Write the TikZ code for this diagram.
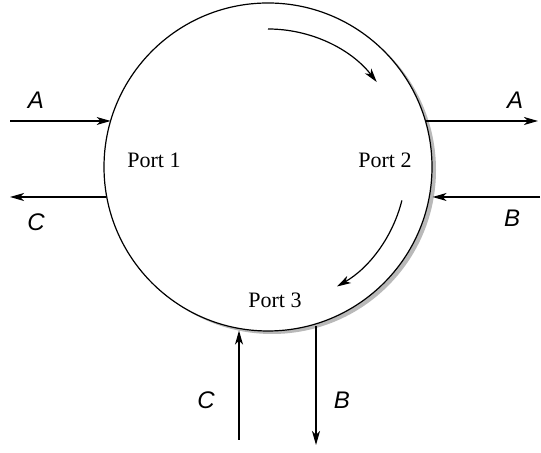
\documentclass[tikz,border=0pt]{standalone}
\usepackage{fontspec}
\setmainfont{Liberation Serif}
\setsansfont{Liberation Sans}
\usetikzlibrary{arrows.meta, positioning, calc}

\begin{document}
\begin{tikzpicture}[
  x=0.5pt, y=0.5pt,
  arrow/.style={-{Stealth[length=7pt, width=4pt, inset=2pt]}, line width=0.6pt},
  portlabel/.style={font=\fontsize{11}{13}\selectfont, inner sep=0pt},
  signal/.style={font=\sffamily\itshape\fontsize{12}{14}\selectfont, inner sep=0pt}
]
  \useasboundingbox (0,0) rectangle (541,453);

  %% Circulator body with shadow
  \node[circle, fill=gray!55, minimum size=164pt, inner sep=0pt] (shadow) at (272,283) {};
  \node[circle, draw, fill=white, line width=0.6pt, minimum size=164pt, inner sep=0pt] (circ) at (268,286) {};

  %% Ports
  \node[portlabel] (p1) at (154,293) {Port 1};
  \node[portlabel] (p2) at (385,293) {Port 2};
  \node[portlabel] (p3) at (275,153) {Port 3};

  %% Rotation sense
  \draw[arrow] (circ.center) ++(90:138) arc[start angle=90, end angle=38, radius=138];
  \draw[arrow] (circ.center) ++(-14:138) arc[start angle=-14, end angle=-60, radius=138];

  %% Port 1 lines
  \coordinate (inA) at (10,332);
  \coordinate (outC) at (10,256);
  \draw[arrow] (inA) -- (inA -| circ.163.7);
  \draw[arrow] (outC -| circ.190.5) -- (outC);
  \node[signal] (la1) at (36,353) {A};
  \node[signal] (lc1) at (36,231) {C};

  %% Port 2 lines
  \coordinate (outA) at (538,332);
  \coordinate (inB) at (540,256);
  \draw[arrow] (outA -| circ.16.3) -- (outA);
  \draw[arrow] (inB) -- ($(inB -| circ.349.5)+(3,0)$);
  \node[signal] (la2) at (515,353) {A};
  \node[signal] (lb2) at (512,235) {B};

  %% Port 3 lines
  \coordinate (inC) at (239,13);
  \coordinate (outB) at (316,8);
  \draw[arrow] (inC) -- ($(inC |- circ.259.8)+(0,-2)$);
  \draw[arrow] ($(outB |- circ.287)+(0,-2)$) -- (outB);
  \node[signal] (lc3) at (206,53) {C};
  \node[signal] (lb3) at (342,53) {B};
\end{tikzpicture}
\end{document}
